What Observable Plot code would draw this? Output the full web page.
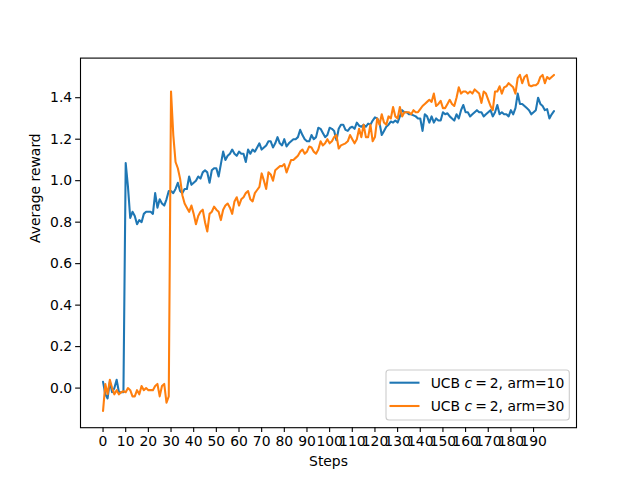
<!DOCTYPE html>
<html><head><meta charset="utf-8">
<script src="https://cdn.jsdelivr.net/npm/d3@7"></script>
<script src="https://cdn.jsdelivr.net/npm/@observablehq/plot@0.6"></script>
<style>body{margin:0;background:#fff;}</style>
</head><body><div id="chart"></div>
<script>
const arm10 = [
0.03,-0.03,-0.05,0.03,-0.02,0.00,0.04,-0.02,-0.02,-0.02,
1.085,0.97,0.82,0.85,0.83,0.79,0.81,0.80,0.84,0.85,
0.85,0.85,0.84,0.94,0.87,0.91,0.89,0.88,0.91,0.95,
0.95,0.94,0.96,0.99,0.95,0.94,0.96,0.96,1.02,0.98,
0.99,1.00,1.02,1.01,1.04,1.05,1.04,0.99,1.05,1.06,
1.06,1.02,1.08,1.14,1.10,1.12,1.13,1.15,1.13,1.12,
1.14,1.13,1.13,1.09,1.15,1.13,1.15,1.14,1.16,1.18,
1.15,1.16,1.17,1.19,1.19,1.16,1.18,1.21,1.18,1.17,
1.20,1.165,1.18,1.19,1.20,1.20,1.21,1.245,1.22,1.20,
1.19,1.19,1.22,1.20,1.21,1.255,1.25,1.23,1.21,1.22,
1.255,1.25,1.24,1.195,1.25,1.27,1.27,1.245,1.24,1.255,
1.26,1.25,1.28,1.265,1.26,1.27,1.26,1.275,1.27,1.29,
1.305,1.30,1.28,1.22,1.24,1.26,1.27,1.285,1.28,1.29,
1.28,1.31,1.34,1.33,1.33,1.32,1.32,1.315,1.31,1.30,
1.30,1.24,1.32,1.31,1.28,1.31,1.28,1.30,1.29,1.29,
1.33,1.32,1.325,1.31,1.30,1.29,1.32,1.30,1.34,1.365,
1.33,1.33,1.31,1.32,1.33,1.34,1.33,1.33,1.31,1.32,
1.33,1.34,1.31,1.33,1.365,1.32,1.33,1.32,1.32,1.31,
1.34,1.32,1.35,1.42,1.37,1.37,1.36,1.35,1.34,1.32,
1.33,1.34,1.40,1.37,1.36,1.34,1.345,1.30,1.32,1.335
];
const arm30 = [
-0.11,0.02,-0.03,0.04,0.00,-0.03,-0.01,-0.03,-0.02,-0.015,
-0.02,0.00,-0.01,-0.04,-0.04,-0.01,-0.03,0.01,-0.01,0.00,
-0.01,-0.01,-0.01,0.01,0.02,-0.04,0.01,0.02,-0.07,-0.04,
1.43,1.22,1.09,1.06,1.01,0.93,0.89,0.87,0.85,0.88,
0.84,0.79,0.83,0.85,0.86,0.80,0.755,0.84,0.85,0.875,
0.86,0.85,0.81,0.86,0.88,0.89,0.87,0.84,0.90,0.92,
0.88,0.91,0.92,0.94,0.95,0.91,0.90,0.94,0.955,0.97,
1.035,1.00,0.96,1.04,1.03,1.00,1.05,1.06,1.07,1.07,
1.08,1.04,1.07,1.10,1.10,1.11,1.12,1.14,1.15,1.13,
1.14,1.165,1.16,1.14,1.13,1.15,1.19,1.17,1.18,1.20,
1.18,1.19,1.21,1.22,1.155,1.17,1.175,1.18,1.19,1.22,
1.20,1.18,1.20,1.25,1.21,1.27,1.21,1.21,1.27,1.19,
1.21,1.30,1.27,1.32,1.28,1.27,1.31,1.30,1.355,1.31,
1.30,1.355,1.31,1.33,1.33,1.33,1.32,1.34,1.33,1.33,
1.345,1.36,1.37,1.38,1.39,1.38,1.42,1.36,1.37,1.385,
1.35,1.35,1.37,1.39,1.37,1.36,1.40,1.45,1.42,1.43,
1.43,1.42,1.43,1.42,1.44,1.43,1.42,1.375,1.43,1.42,
1.39,1.36,1.34,1.43,1.43,1.455,1.42,1.45,1.455,1.47,
1.46,1.45,1.42,1.495,1.51,1.47,1.50,1.51,1.46,1.455,
1.46,1.46,1.47,1.50,1.51,1.47,1.50,1.49,1.50,1.51
];
const xTicks = [0,10,20,30,40,50,60,70,80,90,100,110,120,130,140,150,160,170,180,190];
const yTicks = [0,0.2,0.4,0.6,0.8,1.0,1.2,1.4];
const seriesNames = ["arm=10","arm=30"];
const colors = ["#1f77b4","#ff7f0e"];
const xLabel = "Steps";
const yLabel = "Average reward";

const data = [
  ...arm10.map((v,i)=>({step:i,value:v,series:seriesNames[0]})),
  ...arm30.map((v,i)=>({step:i,value:v,series:seriesNames[1]}))
];

const chart = Plot.plot({
  width:640, height:480,
  marginLeft:80, marginRight:64, marginTop:57.6, marginBottom:52.8,
  style:{fontFamily:"DejaVu Sans", fontSize:"13.9px", color:"black", background:"white", overflow:"visible"},
  x:{domain:[-9.95,208.95]},
  y:{domain:[-0.191,1.591]},
  color:{domain:seriesNames, range:colors},
  marks:[
    Plot.axisX({ticks:xTicks, tickSize:4.86, tickPadding:4, label:null, tickFormat:d=>String(d), stroke:"black", strokeWidth:1.1}),
    Plot.axisY({ticks:yTicks, tickSize:4.86, tickPadding:3.5, label:null, tickFormat:d3.format(".1f"), stroke:"black", strokeWidth:1.1}),
    Plot.line(data,{x:"step", y:"value", z:"series", stroke:"series", strokeWidth:2.08, strokeLinejoin:"round"}),
    Plot.frame({stroke:"black", strokeWidth:1.1}),
    Plot.text([xLabel],{frameAnchor:"bottom", dy:38, text:d=>d, fill:"black", fontSize:13.9}),
    Plot.text([yLabel],{frameAnchor:"left", dx:-45, rotate:-90, text:d=>d, fill:"black", fontSize:13.9})
  ]
});
document.getElementById("chart").appendChild(chart);

// legend inside lower right
const svg = d3.select(chart);
const lg = svg.append("g").attr("font-family","DejaVu Sans").attr("font-size","13.9px").attr("text-anchor","start");
lg.append("rect").attr("x",386).attr("y",370).attr("width",183.3).attr("height",50)
  .attr("rx",3).attr("fill","white").attr("fill-opacity",0.8).attr("stroke","#cccccc").attr("stroke-width",1.1);
seriesNames.forEach((name,i)=>{
  const cy = 382.7 + i*23.3;
  lg.append("line").attr("x1",389.5).attr("x2",419.5).attr("y1",cy).attr("y2",cy)
    .attr("stroke",colors[i]).attr("stroke-width",2.08);
  const t = lg.append("text").attr("x",430.7).attr("y",cy+4.8).attr("fill","black").attr("text-anchor","start");
  t.append("tspan").text("UCB ");
  t.append("tspan").attr("font-style","italic").text("c");
  t.append("tspan").attr("dx",3).text("=");
  t.append("tspan").attr("dx",3).text("2, " + name);
});
</script>
</body></html>
